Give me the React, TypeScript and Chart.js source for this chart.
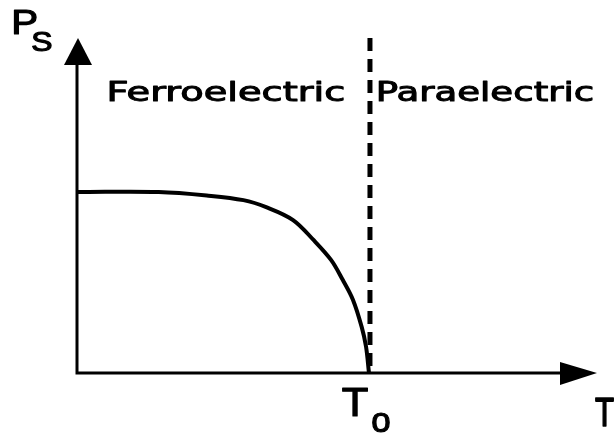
import React, { useEffect, useRef } from "react";
import { Chart, registerables } from "chart.js";

Chart.register(...registerables);

// Reduced temperature T/To and spontaneous polarisation Ps (normalised)
const temperature = [0, 0.28, 0.45, 0.57, 0.65, 0.74, 0.81, 0.87, 0.91, 0.945, 0.975, 0.99, 1.0];
const polarization = [1.0, 1.0, 0.98, 0.955, 0.915, 0.845, 0.735, 0.625, 0.515, 0.405, 0.255, 0.145, 0];
const transitionT = 1.0;
const xMax = 1.781;
const yMax = 1.851;
const regionLabels = ["Ferroelectric", "Paraelectric"];
const yAxisLabel = ["P", "S"];
const xAxisLabel = "T";
const transitionLabel = ["T", "o"];

const FONT = "Liberation Sans, Arial, sans-serif";
const REGION_FONT = "DejaVu Sans, sans-serif";

function fitText(
  ctx: CanvasRenderingContext2D,
  text: string,
  x0: number,
  y0: number,
  x1: number,
  y1: number,
  outline = 1
) {
  ctx.save();
  ctx.font = `normal 100px ${FONT}`;
  ctx.textBaseline = "alphabetic";
  ctx.textAlign = "left";
  const m = ctx.measureText(text);
  const w = m.actualBoundingBoxLeft + m.actualBoundingBoxRight;
  const h = m.actualBoundingBoxAscent + m.actualBoundingBoxDescent;
  const sx = (x1 - x0 - outline) / w;
  const sy = (y1 - y0 - outline) / h;
  ctx.translate(x0 + outline / 2, y0 + outline / 2);
  ctx.scale(sx, sy);
  ctx.fillText(text, m.actualBoundingBoxLeft, m.actualBoundingBoxAscent);
  ctx.lineWidth = outline / Math.min(sx, sy);
  ctx.lineJoin = "round";
  ctx.strokeText(text, m.actualBoundingBoxLeft, m.actualBoundingBoxAscent);
  ctx.restore();
}

function fitLine(
  ctx: CanvasRenderingContext2D,
  text: string,
  left: number,
  right: number,
  baseline: number,
  capH: number,
  outline = 1
) {
  ctx.save();
  ctx.font = `normal 100px ${REGION_FONT}`;
  ctx.textBaseline = "alphabetic";
  ctx.textAlign = "left";
  const m = ctx.measureText(text);
  const w = m.actualBoundingBoxLeft + m.actualBoundingBoxRight;
  const cap = ctx.measureText("H").actualBoundingBoxAscent;
  const sx = (right - left) / w;
  const sy = capH / cap;
  ctx.translate(left, baseline);
  ctx.scale(sx, sy);
  ctx.fillText(text, m.actualBoundingBoxLeft, 0);
  ctx.lineWidth = outline / Math.min(sx, sy);
  ctx.lineJoin = "round";
  ctx.strokeText(text, m.actualBoundingBoxLeft, 0);
  ctx.restore();
}

const decorPlugin = {
  id: "decor",
  beforeDatasetsDraw(chart: any) {
    const ctx = chart.ctx as CanvasRenderingContext2D;
    const xs = chart.scales.x;
    const ys = chart.scales.y;
    const x0 = xs.getPixelForValue(0);
    const y0 = ys.getPixelForValue(0);
    const xEnd = xs.getPixelForValue(xMax);
    const yTop = ys.getPixelForValue(yMax);
    ctx.save();
    ctx.strokeStyle = "#000";
    ctx.fillStyle = "#000";
    ctx.lineWidth = 3;
    ctx.lineCap = "butt";
    // axes
    ctx.beginPath();
    ctx.moveTo(x0, yTop + 20);
    ctx.lineTo(x0, y0);
    ctx.lineTo(xEnd - 20, y0);
    ctx.stroke();
    // y arrow
    ctx.beginPath();
    ctx.moveTo(x0 + 1, yTop);
    ctx.lineTo(x0 + 15, yTop + 27);
    ctx.lineTo(x0 - 13, yTop + 27);
    ctx.closePath();
    ctx.fill();
    // x arrow
    ctx.beginPath();
    ctx.moveTo(xEnd, y0);
    ctx.lineTo(xEnd - 37, y0 - 11);
    ctx.lineTo(xEnd - 37, y0 + 12);
    ctx.closePath();
    ctx.fill();
    // dashed transition line
    const xt = xs.getPixelForValue(transitionT) + 1;
    ctx.lineWidth = 5;
    ctx.setLineDash([13, 8]);
    ctx.beginPath();
    ctx.moveTo(xt, yTop);
    ctx.lineTo(xt, y0);
    ctx.stroke();
    ctx.setLineDash([]);
    ctx.restore();
  },
  afterDraw(chart: any) {
    const ctx = chart.ctx as CanvasRenderingContext2D;
    ctx.save();
    ctx.fillStyle = "#000";
    ctx.strokeStyle = "#000";
    // axis labels
    fitText(ctx, yAxisLabel[0], 14, 10, 37, 35, 1.2);
    fitText(ctx, yAxisLabel[1], 32, 31, 52, 52, 1.2);
    fitText(ctx, xAxisLabel, 595, 397, 614, 427, 1.2);
    fitText(ctx, transitionLabel[0], 342, 388, 368, 417, 1.2);
    fitText(ctx, transitionLabel[1], 372, 413, 390, 433, 1.2);
    // region labels
    fitLine(ctx, regionLabels[0], 110, 343, 101, 19, 1);
    fitLine(ctx, regionLabels[1], 379, 592, 101, 19, 1);
    ctx.restore();
  },
};

export default function App() {
  const canvasRef = useRef<HTMLCanvasElement | null>(null);

  useEffect(() => {
    if (!canvasRef.current) return;
    const chart = new Chart(canvasRef.current, {
      type: "line",
      data: {
        datasets: [
          {
            data: temperature.map((t, i) => ({ x: t, y: polarization[i] })),
            borderColor: "#000",
            borderWidth: 4,
            pointRadius: 0,
            tension: 0.35,
            fill: false,
          },
        ],
      },
      options: {
        responsive: false,
        animation: false,
        layout: { padding: { left: 77, right: 17, top: 38, bottom: 61 } },
        scales: {
          x: { type: "linear", min: 0, max: xMax, display: false },
          y: { type: "linear", min: 0, max: yMax, display: false },
        },
        plugins: {
          legend: { display: false },
          tooltip: { enabled: false },
        },
      },
      plugins: [decorPlugin],
    } as any);
    return () => chart.destroy();
  }, []);

  return (
    <div style={{ position: "absolute", left: 0, top: 0, width: 614, height: 434, background: "#fff" }}>
      <canvas ref={canvasRef} width={614} height={434} />
    </div>
  );
}
